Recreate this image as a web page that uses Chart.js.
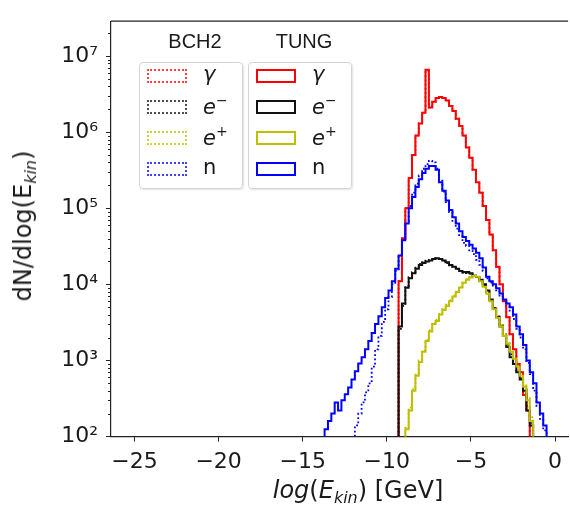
<!DOCTYPE html>
<html>
<head>
<meta charset="utf-8">
<script src="https://cdn.jsdelivr.net/npm/chart.js@4.4.1/dist/chart.umd.min.js"></script>
<style>
  body { margin: 0; background: #fff; }
  #wrap { position: relative; width: 570px; height: 509px; overflow: hidden;
          font-family: 'DejaVu Sans', sans-serif; color: #1a1a1a; }
  #wrap canvas { position: absolute; left: 0; top: 0; }
  .ttl { position: absolute; font-family: 'Liberation Sans', Arial, sans-serif; font-size: 20px;
         transform: translate(-50%, -50%); white-space: nowrap; }
  .box { position: absolute; border: 1px solid #d4d4d4; border-radius: 4px;
         background: rgba(255,255,255,0.85); box-shadow: 1px 1px 2px rgba(0,0,0,0.12); }
  .sw { position: absolute; width: 40px; height: 14px; box-sizing: border-box; }
  .lab { position: absolute; font-size: 21px; line-height: 1; transform: translateY(-55%); white-space: nowrap; }
  .lab sup { font-size: 14px; vertical-align: 9px; }
  .axt { position: absolute; font-size: 24px; white-space: nowrap; line-height: 1; }
  .axt sub { font-size: 16px; vertical-align: -5px; }
</style>
</head>
<body>
<div id="wrap">
  <canvas id="chart" width="570" height="509"></canvas>
  <div class="axt" id="xTitle" style="left:358px; top:492px; transform:translate(-50%,-50%);"><i>log</i>(<i>E</i><sub><i>kin</i></sub>) [GeV]</div>
  <div class="axt" id="yTitle" style="left:25px; top:226px; transform:translate(-50%,-50%) rotate(-90deg);">dN/dlog(E<sub><i>kin</i></sub>)</div>
</div>
<script>
// log10 of kinetic energy, left bin edges (last entry closes the final bin)
const logE = [
  -13.9, -13.7, -13.5, -13.3, -13.1, -12.9, -12.7, -12.5, -12.3, -12.1,
  -11.9, -11.7, -11.5, -11.3, -11.1, -10.9, -10.7, -10.5, -10.3, -10.1,
  -9.9, -9.7, -9.5, -9.3, -9.1, -8.9, -8.7, -8.5, -8.3, -8.1,
  -7.9, -7.7, -7.5, -7.3, -7.1, -6.9, -6.7, -6.5, -6.3, -6.1,
  -5.9, -5.7, -5.5, -5.3, -5.1, -4.9, -4.7, -4.5, -4.3, -4.1,
  -3.9, -3.7, -3.5, -3.3, -3.1, -2.9, -2.7, -2.5, -2.3, -2.1,
  -1.9, -1.7, -1.5, -1.3, -1.1, -0.9, -0.7, -0.5, -0.3, -0.1
];

// TUNG target (solid)
const tungGamma = [
  null, null, null, null, null, null, null, null, null, null,
  null, null, null, null, null, null, null, null, null, null,
  null, null, 1, 1.1e4, 4e4, 1e5, 2.5e5, 5e5, 9e5, 1.3e6,
  1.8e6, 6.6e6, 2.1e6, 2.5e6, 2.8e6, 2.9e6, 2.8e6, 2.6e6, 2.2e6, 1.9e6,
  1.5e6, 1.2e6, 9e5, 6.3e5, 4.6e5, 3.2e5, 2.2e5, 1.6e5, 1.07e5, 7e4,
  4.5e4, 2.8e4, 1.7e4, 1e4, 6e3, 3.7e3, 2.2e3, 1.4e3, 900, 700,
  350, 220, 1, null, null, null, null, null, null, null
];
const tungElec = [
  null, null, null, null, null, null, null, null, null, null,
  null, null, null, null, null, null, null, null, null, null,
  null, null, 1, 2.8e3, 5.6e3, 9e3, 1.2e4, 1.4e4, 1.6e4, 1.8e4,
  1.9e4, 2.0e4, 2.05e4, 2.15e4, 2.2e4, 2.15e4, 2.05e4, 1.95e4, 1.8e4, 1.7e4,
  1.6e4, 1.5e4, 1.45e4, 1.45e4, 1.4e4, 1.3e4, 1.25e4, 1.15e4, 1e4, 8.3e3,
  6.3e3, 4.8e3, 3.7e3, 2.8e3, 2.1e3, 1.5e3, 1.1e3, 900, 700, 560,
  400, 220, 140, 1, null, null, null, null, null, null
];
const tungPos = [
  null, null, null, null, null, null, null, null, null, null,
  null, null, null, null, null, null, null, null, null, null,
  null, null, null, null, 1, 125, 220, 400, 630, 950,
  1.3e3, 1.8e3, 2.4e3, 3e3, 3.3e3, 4e3, 4.6e3, 5.2e3, 6e3, 6.9e3,
  7.9e3, 9.1e3, 1.05e4, 1.15e4, 1.23e4, 1.29e4, 1.26e4, 1.1e4, 9.3e3, 7.6e3,
  6e3, 4.7e3, 3.6e3, 2.8e3, 2.1e3, 1.66e3, 1.3e3, 1.05e3, 830, 630,
  450, 300, 160, 1, null, null, null, null, null, null
];
const tungNeut = [
  1, 125, 160, 200, 280, 220, 300, 360, 440, 560,
  720, 910, 1.1e3, 1.4e3, 1.8e3, 2.3e3, 3e3, 3.8e3, 5e3, 6.6e3,
  8.3e3, 1.1e4, 1.6e4, 2.4e4, 3.8e4, 6.3e4, 1e5, 1.4e5, 1.9e5, 2.4e5,
  2.9e5, 3.3e5, 3.6e5, 3.6e5, 3.2e5, 2.2e5, 1.7e5, 1.26e5, 9.5e4, 7.6e4,
  6.3e4, 5e4, 4.2e4, 3.7e4, 3.3e4, 2.95e4, 2.6e4, 2.2e4, 1.66e4, 1.26e4,
  1.1e4, 1e4, 8.9e3, 7.6e3, 6.3e3, 5.6e3, 5e3, 4e3, 2.8e3, 2.2e3,
  1.6e3, 1e3, 700, 500, 280, 200, 140, 1, null, null
];

// BCH2 target (dotted)
const bchGamma = [
  null, null, null, null, null, null, null, null, null, null,
  null, null, null, null, null, null, null, null, null, null,
  null, null, 1, 1.1e4, 4e4, 1e5, 2.5e5, 5e5, 9e5, 1.3e6,
  1.8e6, 6.4e6, 2.1e6, 2.5e6, 2.8e6, 2.9e6, 2.8e6, 2.6e6, 2.2e6, 1.9e6,
  1.5e6, 1.2e6, 9e5, 6.3e5, 4.6e5, 3.2e5, 2.2e5, 1.6e5, 1.07e5, 7e4,
  4.5e4, 2.8e4, 1.7e4, 1e4, 6e3, 3.7e3, 2.2e3, 1.4e3, 900, 700,
  350, 220, 1, null, null, null, null, null, null, null
];
const bchElec = [
  null, null, null, null, null, null, null, null, null, null,
  null, null, null, null, null, null, null, null, null, null,
  null, null, 1, 2.6e3, 5.2e3, 9.5e3, 1.25e4, 1.45e4, 1.65e4, 1.85e4,
  1.95e4, 2.05e4, 2.1e4, 2.2e4, 2.15e4, 2.1e4, 2.0e4, 1.9e4, 1.78e4, 1.68e4,
  1.58e4, 1.5e4, 1.42e4, 1.4e4, 1.38e4, 1.3e4, 1.22e4, 1.12e4, 9.8e3, 8e3,
  6.2e3, 4.9e3, 3.8e3, 2.9e3, 2.2e3, 1.6e3, 1.2e3, 950, 720, 580,
  420, 250, 150, 1, null, null, null, null, null, null
];
const bchPos = [
  null, null, null, null, null, null, null, null, null, null,
  null, null, null, null, null, null, null, null, null, null,
  null, null, null, null, 1, 130, 240, 420, 650, 1e3,
  1.35e3, 1.85e3, 2.5e3, 3.1e3, 3.4e3, 4.1e3, 4.7e3, 5.4e3, 6.2e3, 7.1e3,
  8.1e3, 9.3e3, 1.07e4, 1.17e4, 1.25e4, 1.3e4, 1.24e4, 1.08e4, 9.1e3, 7.5e3,
  6e3, 4.8e3, 3.7e3, 2.9e3, 2.2e3, 1.7e3, 1.35e3, 1.1e3, 860, 650,
  470, 320, 180, 1, null, null, null, null, null, null
];
const bchNeut = [
  null, null, null, null, null, null, null, null, null, 1,
  140, 200, 280, 380, 500, 830, 1.4e3, 2.1e3, 3.2e3, 4.7e3,
  6.8e3, 1e4, 1.5e4, 2.4e4, 4e4, 6.8e4, 1.07e5, 1.6e5, 2.1e5, 2.7e5,
  3.3e5, 3.8e5, 4.2e5, 4e5, 3.3e5, 2.3e5, 1.66e5, 1.2e5, 8.9e4, 6.8e4,
  5.4e4, 4.3e4, 3.5e4, 3.2e4, 2.8e4, 2.5e4, 2.1e4, 1.8e4, 1.5e4, 1.2e4,
  1.05e4, 9.3e3, 8.3e3, 7.1e3, 6e3, 5.2e3, 4.5e3, 3.5e3, 2.6e3, 2e3,
  1.4e3, 930, 660, 400, 250, 170, 120, 1, null, null
];

const xTicks = [-25, -20, -15, -10, -5, 0];
const xTickLabels = ['−25', '−20', '−15', '−10', '−5', '0'];
const yTicks = [1e2, 1e3, 1e4, 1e5, 1e6, 1e7];
const yTickLabels = ['10²', '10³', '10⁴', '10⁵', '10⁶', '10⁷'];

const speciesLabels = ['<i>γ</i>', '<i>e</i><sup>−</sup>', '<i>e</i><sup>+</sup>', 'n'];
const speciesColors = ['#ff0000', '#111111', '#bfbf00', '#0000ff'];
const targets = ['BCH2', 'TUNG'];

const toPts = vals => logE.map((x, i) => ({ x: x, y: vals[i] }));

function solid(vals, color) {
    return { data: toPts(vals), borderColor: color, borderWidth: 2, stepped: true,
             pointRadius: 0, fill: false, borderJoinStyle: 'miter' };
}
function dotted(vals, color) {
    return { data: toPts(vals), borderColor: color, borderWidth: 1.8, stepped: true,
             pointRadius: 0, fill: false, borderDash: [1.8, 2.4] };
}

// first dataset ends up on top
const datasets = [
    solid(tungNeut, speciesColors[3]),
    solid(tungPos, speciesColors[2]),
    solid(tungElec, speciesColors[1]),
    solid(tungGamma, speciesColors[0]),
    dotted(bchNeut, speciesColors[3]),
    dotted(bchPos, speciesColors[2]),
    dotted(bchElec, speciesColors[1]),
    dotted(bchGamma, speciesColors[0])
];

const axisColor = '#222';
const tickFont = { family: 'DejaVu Sans', size: 22 };

// short minor ticks on the log axis + the top spine
const framePlugin = {
    id: 'frame',
    afterDraw(chart) {
        const { ctx, chartArea, scales } = chart;
        const y = scales.y;
        ctx.save();
        ctx.strokeStyle = axisColor;
        ctx.lineWidth = 1;
        for (let e = 2; e <= 7; e++) {
            for (let m = 2; m <= 9; m++) {
                const v = m * Math.pow(10, e);
                if (v > y.max) continue;
                const py = Math.round(y.getPixelForValue(v)) + 0.5;
                ctx.beginPath();
                ctx.moveTo(chartArea.left - 3, py);
                ctx.lineTo(chartArea.left, py);
                ctx.stroke();
            }
        }
        ctx.lineWidth = 1.2;
        ctx.beginPath();
        ctx.moveTo(chartArea.left, chartArea.top);
        ctx.lineTo(chartArea.right, chartArea.top);
        ctx.stroke();
        ctx.restore();
    }
};

new Chart(document.getElementById('chart'), {
    type: 'line',
    data: { datasets: datasets },
    plugins: [framePlugin],
    options: {
        responsive: false,
        animation: false,
        layout: { padding: { top: 8, right: 0, bottom: 0, left: 0 } },
        plugins: { legend: { display: false }, tooltip: { enabled: false } },
        scales: {
            x: {
                type: 'linear', min: -26.4, max: 0.78,
                afterBuildTicks: s => { s.ticks = xTicks.map(v => ({ value: v })); },
                afterFit: s => { s.height = 72.5; },
                ticks: { font: tickFont, color: '#1a1a1a', padding: 8, maxRotation: 0,
                         callback: v => xTickLabels[xTicks.indexOf(v)] },
                grid: { drawOnChartArea: false, tickLength: 5, tickColor: axisColor, tickWidth: 1 },
                border: { color: axisColor, width: 1.2 }
            },
            y: {
                type: 'logarithmic', min: 100, max: 2.87e7,
                afterBuildTicks: s => { s.ticks = yTicks.map(v => ({ value: v })); },
                afterFit: s => { s.width = 111; },
                ticks: { font: tickFont, color: '#1a1a1a', padding: 8,
                         callback: v => yTickLabels[yTicks.indexOf(v)] },
                grid: { drawOnChartArea: false, tickLength: 5, tickColor: axisColor, tickWidth: 1 },
                border: { color: axisColor, width: 1.2 }
            }
        }
    }
});

// legend: two framed boxes with a title above each
const wrap = document.getElementById('wrap');
const boxLeft = [139, 248];
const rowY = [76, 107, 138, 169];
targets.forEach((name, t) => {
    const left = boxLeft[t];
    const title = document.createElement('div');
    title.className = 'ttl';
    title.textContent = name;
    title.style.left = (left + 56) + 'px';
    title.style.top = '41px';
    wrap.appendChild(title);

    const box = document.createElement('div');
    box.className = 'box';
    box.style.left = left + 'px';
    box.style.top = '62px';
    box.style.width = '102px';
    box.style.height = '125px';
    wrap.appendChild(box);

    speciesLabels.forEach((lab, i) => {
        const sw = document.createElement('div');
        sw.className = 'sw';
        sw.style.left = (left + 8) + 'px';
        sw.style.top = (rowY[i] - 7) + 'px';
        sw.style.border = t === 0 ? '2px dotted ' + speciesColors[i] : '2px solid ' + speciesColors[i];
        if (t === 0) sw.style.opacity = '0.75';
        wrap.appendChild(sw);

        const l = document.createElement('div');
        l.className = 'lab';
        l.innerHTML = lab;
        l.style.left = (left + 64) + 'px';
        l.style.top = rowY[i] + 'px';
        wrap.appendChild(l);
    });
});
</script>
</body>
</html>
